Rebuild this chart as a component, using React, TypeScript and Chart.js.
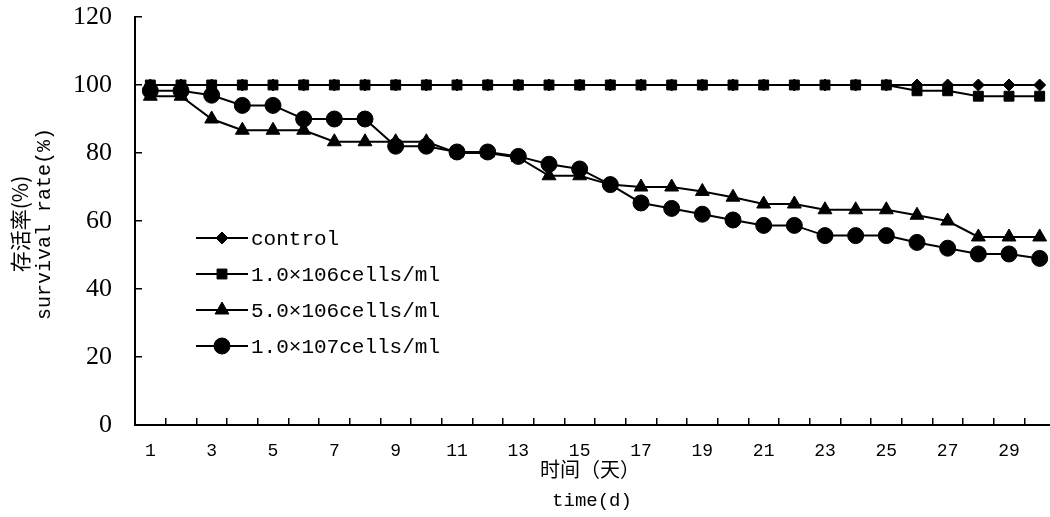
import { useEffect, useRef } from 'react';
import { Chart, registerables } from 'chart.js';
import { drawPoint } from 'chart.js/helpers';

Chart.register(...registerables);

const days = ['1','2','3','4','5','6','7','8','9','10','11','12','13','14','15','16','17','18','19','20','21','22','23','24','25','26','27','28','29','30'];
const shownDayLabels = ['1','3','5','7','9','11','13','15','17','19','21','23','25','27','29'];

const seriesLabels = ['control', '1.0×106cells/ml', '5.0×106cells/ml', '1.0×107cells/ml'];

const control = [100,100,100,100,100,100,100,100,100,100,100,100,100,100,100,100,100,100,100,100,100,100,100,100,100,100,100,100,100,100];
const low = [100,100,100,100,100,100,100,100,100,100,100,100,100,100,100,100,100,100,100,100,100,100,100,100,100,98.3,98.3,96.7,96.7,96.7];
const mid = [96.7,96.7,90,86.7,86.7,86.7,83.3,83.3,83.3,83.3,80,80,78.7,73.3,73.3,70.7,70,70,68.7,67,65,65,63.3,63.3,63.3,61.7,60,55.3,55.3,55.3];
const high = [98.3,98.3,97,94,94,90,90,90,82,82,80.3,80.3,79,76.7,75.3,70.7,65.3,63.7,62,60.3,58.7,58.7,55.7,55.7,55.7,53.7,52,50.3,50.3,49];

const yTicks = [0, 20, 40, 60, 80, 100, 120];
const yTitle = ['存活率(%)', 'survival rate(%)'];
const xTitle = ['时间（天）', 'time(d)'];

const monoFont = "'Liberation Mono', 'Noto Sans CJK SC', monospace";
const cjkFont = "'Noto Sans CJK SC', 'Liberation Mono', sans-serif";

const insideLegend = {
  id: 'insideLegend',
  afterDraw(chart: any) {
    const { ctx, chartArea } = chart;
    const x0 = chartArea.left + 61;
    const y0 = chartArea.top + 221;
    const gap = 36;
    ctx.save();
    chart.data.datasets.forEach((ds: any, i: number) => {
      const y = y0 + i * gap;
      ctx.strokeStyle = '#000';
      ctx.lineWidth = 2;
      ctx.beginPath();
      ctx.moveTo(x0, y);
      ctx.lineTo(x0 + 52, y);
      ctx.stroke();
      ctx.fillStyle = '#000';
      ctx.lineWidth = 1;
      drawPoint(ctx, { pointStyle: ds.pointStyle, radius: ds.pointRadius, borderWidth: 1, rotation: 0 } as any, x0 + 26, y);
      ctx.fillStyle = '#000';
      ctx.font = `21px ${monoFont}`;
      ctx.textBaseline = 'middle';
      ctx.textAlign = 'left';
      ctx.fillText(ds.label, x0 + 55, y + 1);
    });
    ctx.restore();
  },
};

const axisTitles = {
  id: 'axisTitles',
  afterDraw(chart: any) {
    const { ctx, chartArea } = chart;
    const cx = 592;
    const cy = (chartArea.top + chartArea.bottom) / 2 + 3;
    ctx.save();
    ctx.fillStyle = '#000';
    ctx.textAlign = 'center';
    ctx.textBaseline = 'middle';
    ctx.font = `20px ${cjkFont}`;
    ctx.fillText(xTitle[0], cx - 2, chartArea.bottom + 44);
    ctx.font = `19px ${monoFont}`;
    ctx.fillText(xTitle[1], cx, chartArea.bottom + 76);
    ctx.translate(chartArea.left - 115, cy);
    ctx.rotate(-Math.PI / 2);
    ctx.font = `21px ${cjkFont}`;
    ctx.fillText(yTitle[0], 0, 0);
    ctx.font = `20px ${monoFont}`;
    ctx.fillText(yTitle[1], 0, 25);
    ctx.restore();
  },
};

export default function App() {
  const ref = useRef<HTMLCanvasElement | null>(null);
  useEffect(() => {
    if (!ref.current) return;
    Chart.defaults.color = '#000';
    const mk = (label: string, data: number[], style: string, r: number, order: number) => ({
      label,
      data,
      pointStyle: style,
      pointRadius: r,
      pointHoverRadius: r,
      pointBackgroundColor: '#000',
      pointBorderColor: '#000',
      pointBorderWidth: 1,
      borderColor: '#000',
      backgroundColor: '#000',
      borderWidth: 2,
      tension: 0,
      fill: false,
      order,
    });
    const chart = new Chart(ref.current, {
      type: 'line',
      data: {
        labels: days,
        datasets: [
          mk(seriesLabels[0], control, 'rectRot', 6, 3),
          mk(seriesLabels[1], low, 'rect', 7, 2),
          mk(seriesLabels[2], mid, 'triangle', 8, 1),
          mk(seriesLabels[3], high, 'circle', 8, 0),
        ],
      },
      options: {
        animation: false,
        responsive: false,
        maintainAspectRatio: false,
        layout: { padding: { top: 17, right: 0, left: 0, bottom: 0 } },
        plugins: {
          legend: { display: false },
          tooltip: { enabled: false },
        },
        scales: {
          x: {
            type: 'category',
            offset: true,
            grid: { offset: true, drawOnChartArea: false, drawTicks: true, tickLength: -7, color: '#000', lineWidth: 1.5 },
            border: { color: '#000', width: 2 },
            ticks: {
              autoSkip: false,
              maxRotation: 0,
              minRotation: 0,
              padding: 22,
              font: { family: "'Liberation Mono', monospace", size: 18 },
              callback: (_v: any, i: number) => (shownDayLabels.includes(days[i]) ? days[i] : ''),
            },
            title: { display: false },
            afterFit: (s: any) => { s.height = 92; s.paddingLeft = 0; s.paddingRight = 0; },
          },
          y: {
            min: 0,
            max: 120,
            afterBuildTicks: (s: any) => { s.ticks = yTicks.map((v) => ({ value: v })); },
            grid: { drawOnChartArea: false, drawTicks: true, tickLength: -7, color: '#000', lineWidth: 1.5 },
            border: { color: '#000', width: 2 },
            ticks: {
              padding: 30,
              font: { family: "'Liberation Serif', serif", size: 26 },
            },
            title: { display: false },
            afterFit: (s: any) => { s.width = 135; s.paddingTop = 0; s.paddingBottom = 0; },
          },
        },
      },
      plugins: [insideLegend, axisTitles],
    } as any);
    return () => chart.destroy();
  }, []);
  return (
    <div style={{ position: 'absolute', left: 0, top: 0, width: 1050, height: 517, overflow: 'hidden', background: '#fff' }}>
      <canvas ref={ref} width={1064} height={517} style={{ display: 'block', width: 1064, height: 517 }} />
    </div>
  );
}
